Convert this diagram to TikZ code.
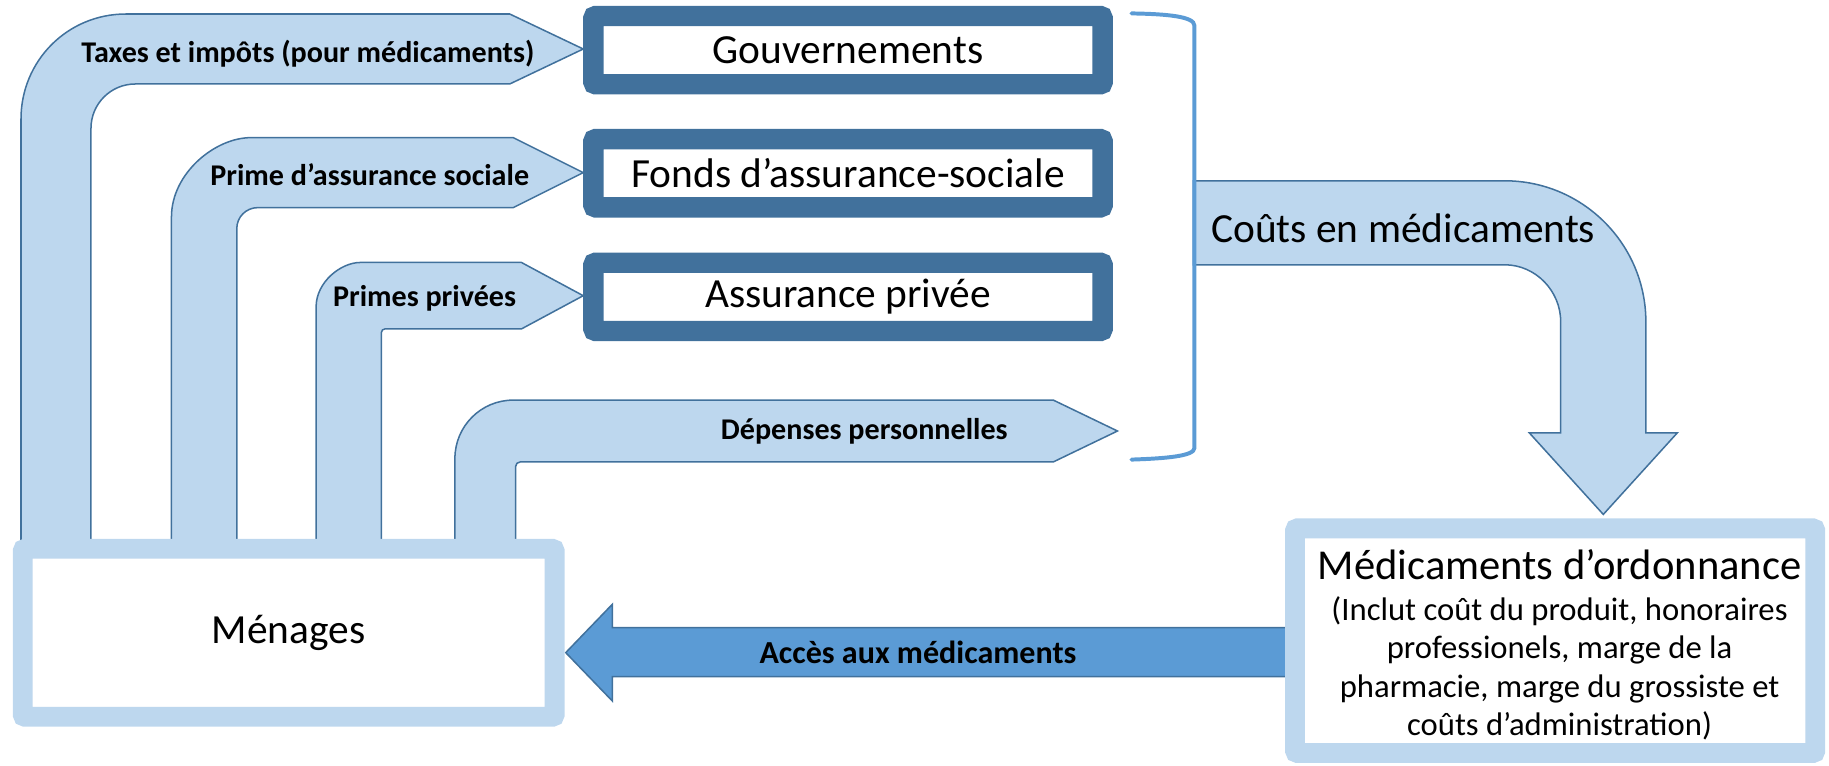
\documentclass[tikz,border=0pt]{standalone}
\usepackage{fontspec}
\setmainfont{Carlito}
\definecolor{lightb}{HTML}{BDD7EE}
\definecolor{edgeb}{HTML}{41719C}
\definecolor{darkb}{HTML}{41719C}
\definecolor{midb}{HTML}{5B9BD5}
\begin{document}
\begin{tikzpicture}[x=1pt,y=-1pt,
  flow/.style={fill=lightb, draw=edgeb, line width=1.3pt, line join=miter},
  accflow/.style={fill=midb, draw=edgeb, line width=1.3pt, line join=miter},
  darkbox/.style={draw=darkb, line width=17.5pt, fill=white, minimum width=436.5pt, minimum height=58.5pt, rounded corners=2pt, inner sep=0pt, font=\fontsize{35.5}{40}\selectfont},
  lightbox/.style={draw=lightb, line width=17pt, fill=white, rounded corners=2pt, inner sep=0pt},
  lab/.style={font=\fontsize{25.8}{30}\selectfont\bfseries, inner sep=0pt},
  bigtext/.style={font=\fontsize{35.5}{40}\selectfont, inner sep=0pt},
  bracketline/.style={draw=midb, line width=3.4pt, line cap=round},
]
\useasboundingbox (0,0) rectangle (1568,656);

% Taxes et impots
\path[flow] (18,464) -- (18,102) .. controls (18,52.3) and (57.7,12) .. (108,12)
  -- (437,12) -- (500,42) -- (437,72) -- (116,72)
  .. controls (95,72) and (78,89) .. (78,110) -- (78,464) -- cycle;
% Prime d'assurance sociale
\path[flow] (147,464) -- (147,186) .. controls (147,148.5) and (184.5,118) .. (215,118)
  -- (440,118) -- (500,148) -- (440,178) -- (221,178)
  .. controls (211,178) and (203,186) .. (203,196) -- (203,464) -- cycle;
% Primes privees
\path[flow] (271,464) -- (271,263) .. controls (271,242) and (292,225) .. (309,225)
  -- (447,225) -- (500,253.5) -- (447,282) -- (330,282)
  .. controls (328.3,282) and (327,283.3) .. (327,285) -- (327,464) -- cycle;
% Depenses personnelles
\path[flow] (390,464) -- (390,393) .. controls (390,365.4) and (412.4,343) .. (440,343)
  -- (903,343) -- (958,369.5) -- (903,396) -- (446,396)
  .. controls (443.8,396) and (442,397.8) .. (442,400) -- (442,464) -- cycle;
% Couts en medicaments
\path[flow] (1023,155) -- (1290,155) .. controls (1356.8,155) and (1411,209.2) .. (1411,276)
  -- (1411,371) -- (1438,371) -- (1374.5,441) -- (1311,371) -- (1338,371) -- (1338,276)
  .. controls (1338,249.5) and (1316.5,227) .. (1290,227) -- (1023,227) -- cycle;
% Acces aux medicaments
\path[accflow] (1110,538) -- (525,538) -- (525,518) -- (485,559.5) -- (525,601) -- (525,580) -- (1110,580) -- cycle;

% bracket
\draw[bracketline] (970,11.5) .. controls (1000,12) and (1024,14) .. (1024,22) -- (1024,384)
  .. controls (1024,391) and (1000,393) .. (970,394);

% boxes
\node[darkbox] (gov) at (727,43) {Gouvernements};
\node[darkbox] (fonds) at (727,148.5) {Fonds d’assurance-sociale};
\node[darkbox] (assur) at (727,254.5) {Assurance privée};
\node[lightbox, minimum width=456pt, minimum height=144pt, font=\fontsize{35.5}{40}\selectfont] (men) at (247.5,542.5) {Ménages};
\node[lightbox, minimum width=446pt, minimum height=192.5pt] (med) at (1333.25,549.25) {};
\node[align=center, inner sep=0pt, font=\fontsize{28}{33}\selectfont] (medt) at (1337,553)
  {{\fontsize{36.5}{40}\selectfont Médicaments d’ordonnance}\\[2pt] (Inclut coût du produit, honoraires\\ professionels, marge de la\\ pharmacie, marge du grossiste et\\ coûts d’administration)};

% labels
\node[lab] (ltax) at (264,46) {Taxes et impôts (pour médicaments)};
\node[lab] (lprime) at (317,150) {Prime d’assurance sociale};
\node[lab] (lpriv) at (364,255.5) {Primes privées};
\node[lab] (ldep) at (741,370) {Dépenses personnelles};
\node[bigtext] (lcout) at (1203,196) {Coûts en médicaments};
\node[lab, font=\fontsize{27.5}{32}\selectfont\bfseries] (lacc) at (787,559) {Accès aux médicaments};
\end{tikzpicture}
\end{document}
